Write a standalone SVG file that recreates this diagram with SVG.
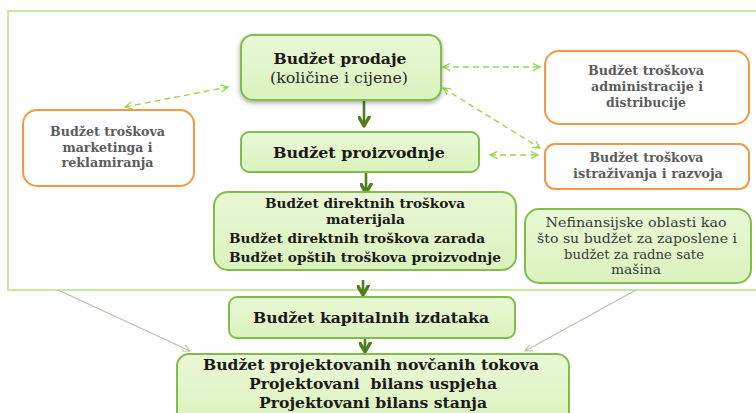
<svg xmlns="http://www.w3.org/2000/svg" width="756" height="413" viewBox="0 0 756 413">
<defs>
<linearGradient id="gf" x1="0" y1="0" x2="0" y2="1">
<stop offset="0" stop-color="#e9f8d6"/>
<stop offset="1" stop-color="#dbf2bd"/>
</linearGradient>
<filter id="sh" x="-10%" y="-20%" width="120%" height="150%">
<feGaussianBlur in="SourceAlpha" stdDeviation="2.5"/>
<feOffset dx="0" dy="2" result="b"/>
<feComponentTransfer><feFuncA type="linear" slope="0.35"/></feComponentTransfer>
<feMerge><feMergeNode/><feMergeNode in="SourceGraphic"/></feMerge>
</filter>
<marker id="ad" viewBox="0 0 10 10" refX="8" refY="5" markerWidth="5" markerHeight="5" orient="auto">
<path d="M1,1 L8,5 L1,9" fill="none" stroke="#4f7f1c" stroke-width="2.6" stroke-linecap="round" stroke-linejoin="round"/>
</marker>
<marker id="al" viewBox="0 0 10 10" refX="9" refY="5" markerWidth="9" markerHeight="9" orient="auto-start-reverse" markerUnits="userSpaceOnUse">
<path d="M1,1 L9,5 L1,9" fill="none" stroke="#9bd44f" stroke-width="1.4"/>
</marker>
<marker id="ag" viewBox="0 0 10 10" refX="9" refY="5" markerWidth="9" markerHeight="9" orient="auto" markerUnits="userSpaceOnUse">
<path d="M1,1 L9,5 L1,9" fill="none" stroke="#b9c2ad" stroke-width="1.2"/>
</marker>
</defs>
<style>
.g{fill:url(#gf);stroke:#82bd4a;stroke-width:2}
.o{fill:#ffffff;stroke:#f79646;stroke-width:2}
text{font-family:"DejaVu Serif","Liberation Serif",serif;text-anchor:middle}
.tb{font-weight:bold;fill:#1a1a1a;font-size:15.7px}
.ts{font-weight:bold;fill:#1a1a1a;font-size:13.7px}
.tp{fill:#2a2a2a;font-size:15.5px}
.tr{font-weight:bold;fill:#5c5c5c;font-size:12.5px}
.tn{fill:#3a3a3a;font-size:12px}
.dk{stroke:#4f7f1c;stroke-width:2.6;fill:none;marker-end:url(#ad)}
.dl{stroke:#9bd44f;stroke-width:1.4;stroke-dasharray:6 4;fill:none;marker-start:url(#al);marker-end:url(#al)}
.gl{stroke:#b9c2ad;stroke-width:1.2;fill:none;marker-end:url(#ag)}
</style>
<rect x="8" y="11" width="760" height="279" fill="none" stroke="#c8e8a2" stroke-width="2"/>
<g id="connectors">
<line class="dk" x1="364" y1="101" x2="364" y2="126"/>
<line class="dk" x1="366" y1="172" x2="366" y2="193"/>
<line class="dk" x1="363" y1="280" x2="363" y2="295"/>
<line class="dk" x1="365" y1="338" x2="365" y2="352"/>
<line class="dl" x1="125" y1="107" x2="228" y2="87"/>
<line class="dl" x1="443" y1="67" x2="540" y2="67"/>
<line class="dl" x1="443" y1="88" x2="540" y2="148"/>
<line class="dl" x1="490" y1="155" x2="538" y2="155"/>
<line class="gl" x1="58" y1="290" x2="190" y2="351"/>
<line class="gl" x1="636" y1="290" x2="525" y2="351"/>
</g>
<g id="n-prodaje">
<rect class="g" x="241" y="35" width="200" height="65" rx="12" filter="url(#sh)"/>
<text class="tb" x="340" y="64" textLength="133" lengthAdjust="spacingAndGlyphs">Budžet prodaje</text>
<text class="tp" x="339" y="83" textLength="138" lengthAdjust="spacingAndGlyphs">(količine i cijene)</text>
</g>
<g id="n-proizvodnje">
<rect class="g" x="241" y="132" width="238" height="40" rx="8"/>
<text class="tb" x="359" y="158" textLength="172" lengthAdjust="spacingAndGlyphs">Budžet proizvodnje</text>
</g>
<g id="n-direktni">
<rect class="g" x="214" y="192" width="302" height="78" rx="14"/>
<text class="ts" x="365" y="208" textLength="200" lengthAdjust="spacingAndGlyphs">Budžet direktnih troškova</text>
<text class="ts" x="365.5" y="224" textLength="79" lengthAdjust="spacingAndGlyphs">materijala</text>
<text class="ts" x="229" y="243" style="text-anchor:start" textLength="256" lengthAdjust="spacingAndGlyphs">Budžet direktnih troškova zarada</text>
<text class="ts" x="229" y="262" style="text-anchor:start" textLength="272" lengthAdjust="spacingAndGlyphs">Budžet opštih troškova proizvodnje</text>
</g>
<g id="n-kapitalni">
<rect class="g" x="229" y="297" width="286" height="41" rx="8"/>
<text class="tb" x="371" y="323" textLength="236" lengthAdjust="spacingAndGlyphs">Budžet kapitalnih izdataka</text>
</g>
<g id="n-projektovani">
<rect class="g" x="177" y="354" width="392" height="72" rx="12"/>
<text class="tb" x="371" y="370" textLength="336" lengthAdjust="spacingAndGlyphs">Budžet projektovanih novčanih tokova</text>
<text class="tb" x="373" y="389" xml:space="preserve" textLength="248" lengthAdjust="spacingAndGlyphs">Projektovani  bilans uspjeha</text>
<text class="tb" x="373" y="408" textLength="228" lengthAdjust="spacingAndGlyphs">Projektovani bilans stanja</text>
</g>
<g id="n-marketing">
<rect class="o" x="23" y="110" width="171" height="76" rx="14"/>
<text class="tr" x="107.5" y="136" textLength="115" lengthAdjust="spacingAndGlyphs">Budžet troškova</text>
<text class="tr" x="107.5" y="152" textLength="90" lengthAdjust="spacingAndGlyphs">marketinga i</text>
<text class="tr" x="107.5" y="167" textLength="92" lengthAdjust="spacingAndGlyphs">reklamiranja</text>
</g>
<g id="n-administracija">
<rect class="o" x="545" y="51" width="204" height="73" rx="14"/>
<text class="tr" x="646" y="75" textLength="116" lengthAdjust="spacingAndGlyphs">Budžet troškova</text>
<text class="tr" x="647" y="91" textLength="112" lengthAdjust="spacingAndGlyphs">administracije i</text>
<text class="tr" x="646" y="107" textLength="80" lengthAdjust="spacingAndGlyphs">distribucije</text>
</g>
<g id="n-istrazivanje">
<rect class="o" x="545" y="144" width="204" height="45" rx="10"/>
<text class="tr" x="646.5" y="162" textLength="114" lengthAdjust="spacingAndGlyphs">Budžet troškova</text>
<text class="tr" x="648" y="178" textLength="150" lengthAdjust="spacingAndGlyphs">istraživanja i razvoja</text>
</g>
<g id="n-nefinansijske">
<rect class="g" x="525" y="209" width="226" height="74" rx="14"/>
<text class="tn" x="636" y="227" textLength="181" lengthAdjust="spacingAndGlyphs">Nefinansijske oblasti kao</text>
<text class="tn" x="637" y="242.5" textLength="200" lengthAdjust="spacingAndGlyphs">što su budžet za zaposlene i</text>
<text class="tn" x="634" y="258.5" textLength="140" lengthAdjust="spacingAndGlyphs">budžet za radne sate</text>
<text class="tn" x="636" y="274" textLength="50" lengthAdjust="spacingAndGlyphs">mašina</text>
</g>
</svg>
